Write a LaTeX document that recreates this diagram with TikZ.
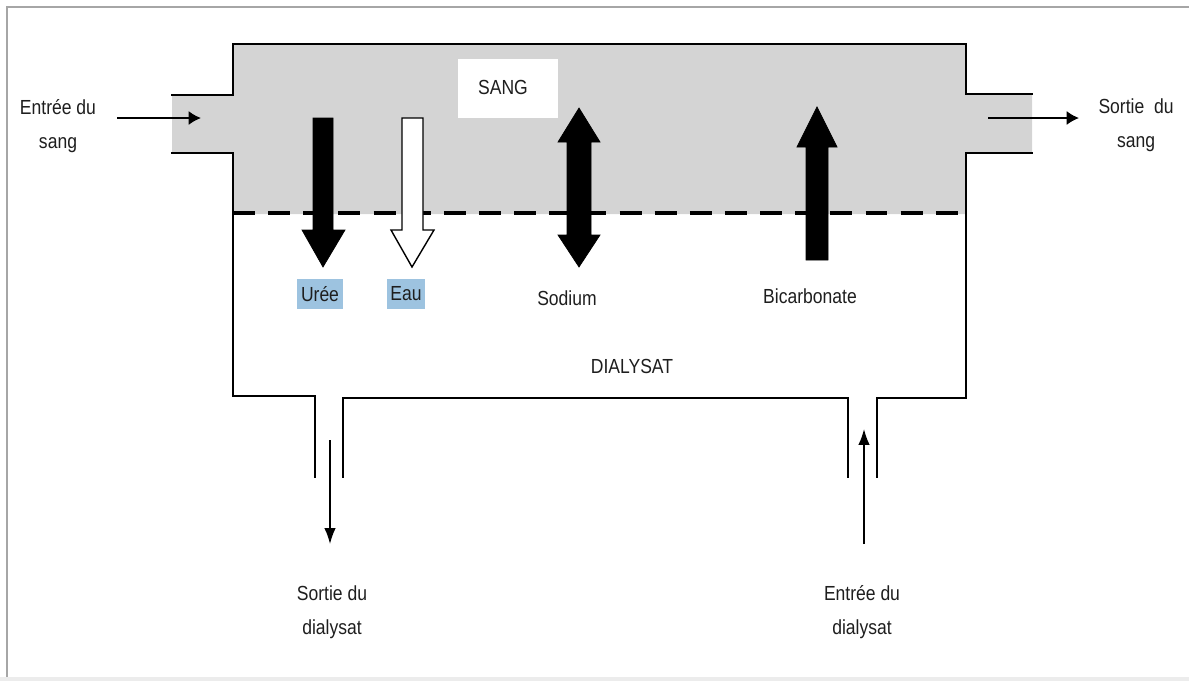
\documentclass[tikz,border=0pt]{standalone}
\usepackage{fontspec}
\setmainfont{Liberation Sans}[FakeStretch=0.86]
\usetikzlibrary{arrows.meta}
\definecolor{hl}{HTML}{9DC3E0}
\definecolor{txt}{HTML}{1E1E1E}
\tikzset{
  wall/.style={line width=1.2pt, line cap=rect},
  lbl/.style={font=\fontsize{11.6}{19.5}\selectfont, text=txt, align=center, inner sep=0pt},
  hlbl/.style={lbl, fill=hl, inner xsep=2pt, minimum height=0.6cm},
  flow/.style={line width=1.1pt, -{Latex[length=7pt,width=8pt]}},
  dflow/.style={line width=0.9pt, -{Latex[length=9pt,width=6.5pt]}},
  fat/.style={fill=black, draw=black, line width=0.4pt, line join=miter},
  fatwhite/.style={fill=white, draw=black, line width=0.8pt, line join=miter},
  membrane/.style={line width=2.8pt, dash pattern=on 12.5pt off 7.5pt},
  frame/.style={draw=gray!70, line width=1.2pt}
}
\begin{document}
\begin{tikzpicture}[x=0.02cm,y=-0.02cm]
\useasboundingbox (0,0) rectangle (1189,680);
% page frame
\draw[frame] (7,680) -- (7,7) -- (1189,7);
\draw[draw=gray!15, line width=2pt] (0,679) -- (1189,679);
% blood compartment
\fill[black!17] (172,95) -- (233,95) -- (233,44) -- (966,44) -- (966,94) -- (1032,94)
  -- (1032,153) -- (966,153) -- (966,214) -- (233,214) -- (233,153) -- (172,153) -- cycle;
\fill[white] (458,59) rectangle (558,118);
\node[lbl] (sang) at (503,87) {SANG};
% walls
\draw[wall] (172,95) -- (233,95) -- (233,44) -- (966,44) -- (966,94) -- (1032,94);
\draw[wall] (172,153) -- (233,153) -- (233,396) -- (315,396) -- (315,477);
\draw[wall] (343,477) -- (343,398) -- (848,398) -- (848,477);
\draw[wall] (877,477) -- (877,398) -- (966,398) -- (966,153) -- (1032,153);
% membrane
\draw[membrane] (233,213) -- (962,213);
% exchange arrows
\draw[fat] (313,118) -- (333,118) -- (333,230) -- (345,230) -- (323,267) -- (302,230) -- (313,230) -- cycle;
\draw[fatwhite] (402,118) -- (423,118) -- (423,230) -- (434,230) -- (412,267) -- (391,230) -- (402,230) -- cycle;
\draw[fat] (579,108) -- (600,142) -- (591,142) -- (591,235) -- (600,235) -- (579,267)
  -- (558,235) -- (567,235) -- (567,142) -- (558,142) -- cycle;
\draw[fat] (817,107) -- (837,147) -- (828,147) -- (828,260) -- (806,260) -- (806,147) -- (797,147) -- cycle;
% labels
\node[hlbl] (uree) at (320,294) {Urée};
\node[hlbl] (eau) at (406,294) {Eau};
\node[lbl] (sodium) at (567,298) {Sodium};
\node[lbl] (bicarb) at (810,296) {Bicarbonate};
\node[lbl] (dialysat) at (632,366) {DIALYSAT};
% blood in / out
\node[lbl] (insang) at (58,126) {Entrée du\\sang};
\node[lbl] (outsang) at (1136,125) {Sortie~ du\\sang};
\coordinate (inA) at (117,118);
\coordinate (inB) at (201,118);
\coordinate (outA) at (988,118);
\coordinate (outB) at (1079,118);
\draw[flow] (inA) -- (inB);
\draw[flow] (outA) -- (outB);
% dialysate in / out
\node[lbl] (outdial) at (332,612) {Sortie du\\dialysat};
\node[lbl] (indial) at (862,612) {Entrée du\\dialysat};
\coordinate (odA) at (330,440);
\coordinate (odB) at (330,544);
\coordinate (idA) at (864,544);
\coordinate (idB) at (864,429);
\draw[dflow] (odA) -- (odB);
\draw[dflow] (idA) -- (idB);
\end{tikzpicture}
\end{document}
